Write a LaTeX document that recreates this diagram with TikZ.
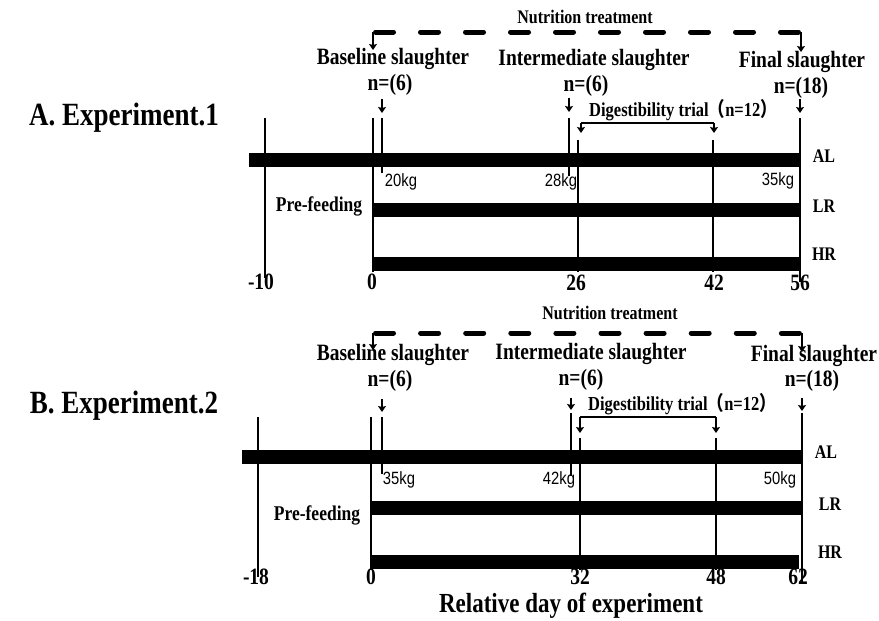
\documentclass[tikz,border=0pt]{standalone}
\usepackage{fontspec}
\usepackage{graphicx}
\setmainfont{Liberation Serif}
\newfontfamily\kgfont{Liberation Sans}
\newfontfamily\cjkfont{Noto Sans CJK SC}
\newcommand{\vs}[1]{\scalebox{1}[1.2]{#1}}
\usetikzlibrary{arrows.meta}
\begin{document}
\begin{tikzpicture}[x=1pt,y=-1pt,
  txt/.style={inner sep=0pt, text height=0.79em, text depth=0pt, font=\fontsize{19.5}{21}\selectfont\bfseries},
  small/.style={txt, font=\fontsize{16}{18}\selectfont\bfseries},
  grp/.style={txt, font=\fontsize{16}{18}\selectfont\bfseries},
  kg/.style={inner sep=0pt, text height=0.86em, text depth=0pt, font=\fontsize{14.8}{16}\selectfont\kgfont},
  tick/.style={txt, font=\fontsize{19.5}{21}\selectfont\bfseries},
  title/.style={txt, font=\fontsize{27}{30}\selectfont\bfseries},
  vline/.style={line width=2pt},
  bar/.style={fill=black},
  dashline/.style={line width=5pt, line cap=round, dash pattern=on 18pt off 27pt},
  arr/.style={line width=1.6pt, -{Stealth[length=6pt,width=8pt,inset=1pt]}},
]
\useasboundingbox (0,0) rectangle (879,621);
\fill[white] (0,0) rectangle (879,621);

% ================= Experiment 1 =================
\node[title] (tA) at (124,122) {\vs{A. Experiment.1}};
\node[small] (nt1) at (585,20) {\vs{Nutrition treatment}};
\coordinate (d1l) at (373,32);
\coordinate (d1r) at (801,32);
\draw[dashline] (375.5,32) -- (798.5,32);
\draw[arr] (d1l) -- (373,50);
\draw[arr] (d1r) -- (801,52);

\node[txt] (bs1) at (393,61) {\vs{Baseline slaughter}};
\node[txt] (bn1) at (390,87) {\vs{n=(6)}};
\node[txt] (is1) at (594,62) {\vs{Intermediate slaughter}};
\node[txt] (in1) at (586,88) {\vs{n=(6)}};
\node[txt] (fs1) at (802,64) {\vs{Final slaughter}};
\node[txt] (fn1) at (801,90) {\vs{n=(18)}};

\draw[arr] (382,99) -- (382,113);
\draw[arr] (569,98) -- (569,112);
\draw[arr] (800,99) -- (800,113);

\node[txt, anchor=west, font=\fontsize{16.5}{18}\selectfont\bfseries] (dg1) at (589,113) {\vs{Digestibility trial{\cjkfont （}n=12{\cjkfont ）}}};
\coordinate (g1l) at (581,123);
\coordinate (g1r) at (714,123);
\draw[line width=2pt] (g1l) -- (g1r);
\draw[arr] (g1l) -- (581,133);
\draw[arr] (g1r) -- (714,133);

% bars
\fill[bar] (249,153) rectangle (800,167);
\fill[bar] (373,203) rectangle (800,217);
\fill[bar] (373,257) rectangle (800,271);

% vertical lines
\draw[vline] (265,118) -- (265,278);
\draw[vline] (373,118) -- (373,272);
\draw[vline] (382,118) -- (382,173);
\draw[vline] (569,118) -- (569,176);
\draw[vline] (578,140) -- (578,272);
\draw[vline] (713,140) -- (713,272);
\draw[vline] (800,118) -- (800,282);

\node[grp] (al1) at (824,159) {\vs{AL}};
\node[grp] (lr1) at (824,209) {\vs{LR}};
\node[grp] (hr1) at (824,257) {\vs{HR}};

\node[kg] (w11) at (401,182) {\vs{20kg}};
\node[kg] (w12) at (561,182) {\vs{28kg}};
\node[kg] (w13) at (778,181) {\vs{35kg}};
\node[txt, font=\fontsize{17.5}{19}\selectfont\bfseries] (pf1) at (319,208) {\vs{Pre-feeding}};

\node[tick] at (261,286) {\vs{-10}};
\node[tick] at (372,286) {\vs{0}};
\node[tick] at (576,287) {\vs{26}};
\node[tick] at (714,287) {\vs{42}};
\node[tick] at (800,287) {\vs{56}};

% ================= Experiment 2 =================
\node[title] (tB) at (124,410) {\vs{B. Experiment.2}};
\node[small] (nt2) at (610,316) {\vs{Nutrition treatment}};
\coordinate (d2l) at (373,333);
\coordinate (d2r) at (802,333);
\draw[dashline, dash pattern=on 18pt off 27.1pt] (375.5,333) -- (799.5,333);
\draw[arr] (d2l) -- (373,350);
\draw[arr] (d2r) -- (802,352);

\node[txt] (bs2) at (393,357) {\vs{Baseline slaughter}};
\node[txt] (bn2) at (390,383) {\vs{n=(6)}};
\node[txt] (is2) at (591,356) {\vs{Intermediate slaughter}};
\node[txt] (in2) at (581,382) {\vs{n=(6)}};
\node[txt] (fs2) at (814,358) {\vs{Final slaughter}};
\node[txt] (fn2) at (812,383) {\vs{n=(18)}};

\draw[arr] (382,399) -- (382,412);
\draw[arr] (571,398) -- (571,410);
\draw[arr] (802,398) -- (802,411);

\node[txt, anchor=west, font=\fontsize{16.5}{18}\selectfont\bfseries] (dg2) at (588,407) {\vs{Digestibility trial{\cjkfont （}n=12{\cjkfont ）}}};
\coordinate (g2l) at (580,417);
\coordinate (g2r) at (716,417);
\draw[line width=2pt] (g2l) -- (g2r);
\draw[arr] (g2l) -- (580,433);
\draw[arr] (g2r) -- (716,433);

\fill[bar] (242,450) rectangle (802,464);
\fill[bar] (371,501) rectangle (802,515);
\fill[bar] (371,555) rectangle (799,569);

\draw[vline] (258,417) -- (258,577);
\draw[vline] (371,417) -- (371,570);
\draw[vline] (382,417) -- (382,474);
\draw[vline] (571,413) -- (571,476);
\draw[vline] (580,438) -- (580,570);
\draw[vline] (716,438) -- (716,570);
\draw[vline] (802,413) -- (802,582);

\node[grp] (al2) at (826,455) {\vs{AL}};
\node[grp] (lr2) at (830,507) {\vs{LR}};
\node[grp] (hr2) at (830,555) {\vs{HR}};

\node[kg] (w21) at (399,480) {\vs{35kg}};
\node[kg] (w22) at (559,480) {\vs{42kg}};
\node[kg] (w23) at (780,480) {\vs{50kg}};
\node[txt, font=\fontsize{17.5}{19}\selectfont\bfseries] (pf2) at (317,517) {\vs{Pre-feeding}};

\node[tick] at (256,581) {\vs{-18}};
\node[tick] at (371,581) {\vs{0}};
\node[tick] at (580,581) {\vs{32}};
\node[tick] at (716,581) {\vs{48}};
\node[tick] at (798,581) {\vs{62}};

\node[txt, font=\fontsize{23}{25}\selectfont\bfseries] (rd) at (571,609) {\vs{Relative day of experiment}};
\end{tikzpicture}
\end{document}
